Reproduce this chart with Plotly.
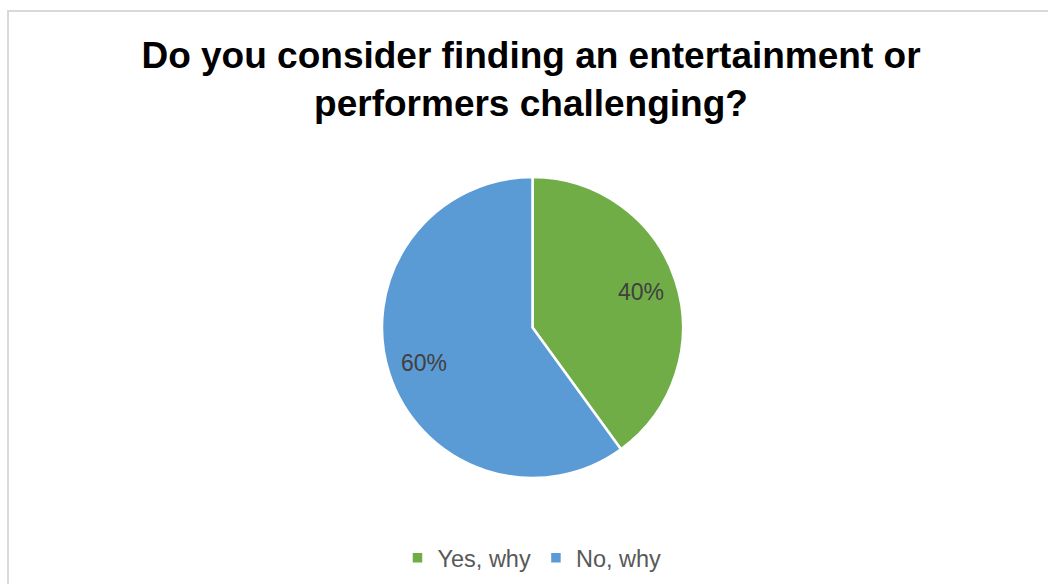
import math
import plotly.graph_objects as go

# Survey answers (percent of respondents)
answers = ["Yes, why", "No, why"]
shares = [40, 60]
slice_colors = ["#70AD47", "#5B9BD5"]

title_text = "Do you consider finding an entertainment or<br>performers challenging?"

W, H = 1048, 584
# pie geometry in pixels
cx, cy, r = 532.5, 327.5, 150.5
label_frac = 0.76

fig = go.Figure()
fig.add_trace(go.Pie(
    labels=answers,
    values=shares,
    sort=False,
    direction="clockwise",
    rotation=0,
    marker=dict(colors=slice_colors, line=dict(color="white", width=2.5)),
    textinfo="none",
    hoverinfo="label+percent",
    domain=dict(x=[(cx - r) / W, (cx + r) / W], y=[1 - (cy + r) / H, 1 - (cy - r) / H]),
))

# percentage labels placed along each slice's bisector
total = sum(shares)
start = 0.0
annotations = []
for v in shares:
    frac = v / total
    mid = (start + frac / 2) * 2 * math.pi
    start += frac
    px = cx + label_frac * r * math.sin(mid)
    py = cy - label_frac * r * math.cos(mid)
    annotations.append(dict(
        x=px / W, y=1 - py / H, xref="paper", yref="paper",
        text=f"{round(frac * 100)}%", showarrow=False,
        font=dict(family="Liberation Sans, Arial", size=23, color="#404040"),
        xanchor="center", yanchor="middle",
    ))

fig.update_layout(
    width=W, height=H,
    margin=dict(l=0, r=0, t=0, b=0),
    paper_bgcolor="white",
    plot_bgcolor="white",
    title=dict(
        text=title_text,
        x=531 / W, xanchor="center",
        y=1 - 68 / H, yanchor="top", yref="container",
        font=dict(family="Liberation Sans, Arial", size=37, color="black", weight="bold"),
    ),
    legend=dict(
        orientation="h",
        x=532 / W, xanchor="center",
        y=1 - 558 / H, yanchor="middle",
        font=dict(family="Liberation Sans, Arial", size=23.5, color="#595959"),
        itemclick=False,
    ),
    annotations=annotations,
    shapes=[dict(
        type="rect", xref="paper", yref="paper",
        x0=8 / W, y0=1 - 11 / H, x1=1.02, y1=-0.05,
        line=dict(color="#D9D9D9", width=2), fillcolor="rgba(0,0,0,0)", layer="above",
    )],
)

fig.write_html("out.html")
